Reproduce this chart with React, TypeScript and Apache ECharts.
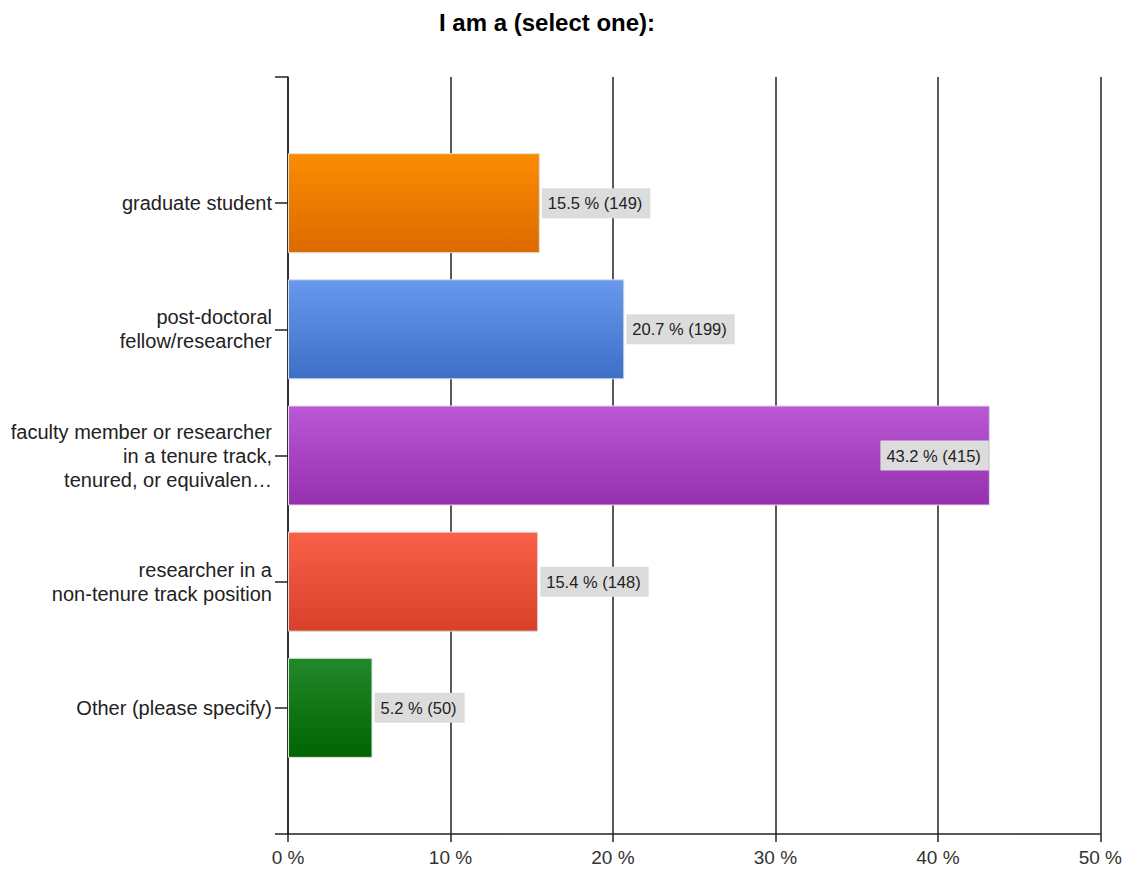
import React, { useEffect, useRef } from "react";
import * as echarts from "echarts";

const categories = [
  "",
  "graduate student",
  "post-doctoral\nfellow/researcher",
  "faculty member or researcher\nin a tenure track,\ntenured, or equivalen…",
  "researcher in a\nnon-tenure track position",
  "Other (please specify)",
  "",
];
const percents = [15.5, 20.7, 43.2, 15.4, 5.2];
const counts = [149, 199, 415, 148, 50];
const topColors = ["#FB8C00", "#6699EE", "#BA58D6", "#FA6048", "#23882A"];
const bottomColors = ["#DC6A00", "#3D6FC6", "#9530AE", "#D9402A", "#006400"];
const xTicks = [0, 10, 20, 30, 40, 50];

export default function App() {
  const ref = useRef<HTMLDivElement>(null);
  useEffect(() => {
    if (!ref.current) return;
    const chart = echarts.init(ref.current, null, { renderer: "svg" });
    const data: any[] = [null];
    percents.forEach((v, i) => {
      data.push({
        value: v,
        itemStyle: {
          color: new echarts.graphic.LinearGradient(0, 0, 0, 1, [
            { offset: 0, color: topColors[i] },
            { offset: 1, color: bottomColors[i] },
          ]),
        },
        label: v > 40 ? { position: "insideRight", distance: 1 } : undefined,
      });
    });
    data.push(null);
    chart.setOption({
      animation: false,
      title: {
        text: "I am a (select one):",
        left: 434,
        top: 5,
        textStyle: {
          fontFamily: "Liberation Sans, Arial, sans-serif",
          fontWeight: "bold",
          fontSize: 24,
          color: "#000",
        },
      },
      grid: { left: 288, right: 24, top: 77, bottom: 35 },
      xAxis: {
        type: "value",
        min: xTicks[0],
        max: xTicks[xTicks.length - 1],
        interval: 10,
        axisLine: { show: true, lineStyle: { color: "#222", width: 1.5 } },
        axisTick: { show: true, length: 8, lineStyle: { color: "#222", width: 1.5 } },
        axisLabel: {
          formatter: "{value} %",
          fontFamily: "Liberation Sans, Arial, sans-serif",
          fontSize: 19,
          color: "#333",
          margin: 14,
        },
        splitLine: { show: true, lineStyle: { color: "#222", width: 1.5 } },
      },
      yAxis: {
        type: "category",
        data: categories,
        inverse: true,
        boundaryGap: false,
        axisLine: { show: true, lineStyle: { color: "#222", width: 1.5 } },
        axisTick: { show: true, length: 13, lineStyle: { color: "#222", width: 1.5 } },
        axisLabel: {
          interval: 0,
          fontFamily: "Liberation Sans, Arial, sans-serif",
          fontSize: 20,
          lineHeight: 24,
          color: "#222",
          margin: 16,
          align: "right",
        },
        splitLine: { show: false },
      },
      series: [
        {
          type: "bar",
          data,
          barWidth: 100,
          itemStyle: { borderColor: "#dddddd", borderWidth: 1 },
          label: {
            show: true,
            position: "right",
            distance: 2,
            formatter: (p: any) => `${p.value} % (${counts[p.dataIndex - 1]})`,
            fontFamily: "Liberation Sans, Arial, sans-serif",
            fontSize: 16.5,
            color: "#222",
            backgroundColor: "#DCDCDC",
            padding: [7, 8, 6, 6],
          },
        },
      ],
    });
    return () => chart.dispose();
  }, []);
  return (
    <div
      ref={ref}
      style={{ position: "fixed", left: 0, top: 0, width: 1125, height: 869, background: "#fff" }}
    />
  );
}
